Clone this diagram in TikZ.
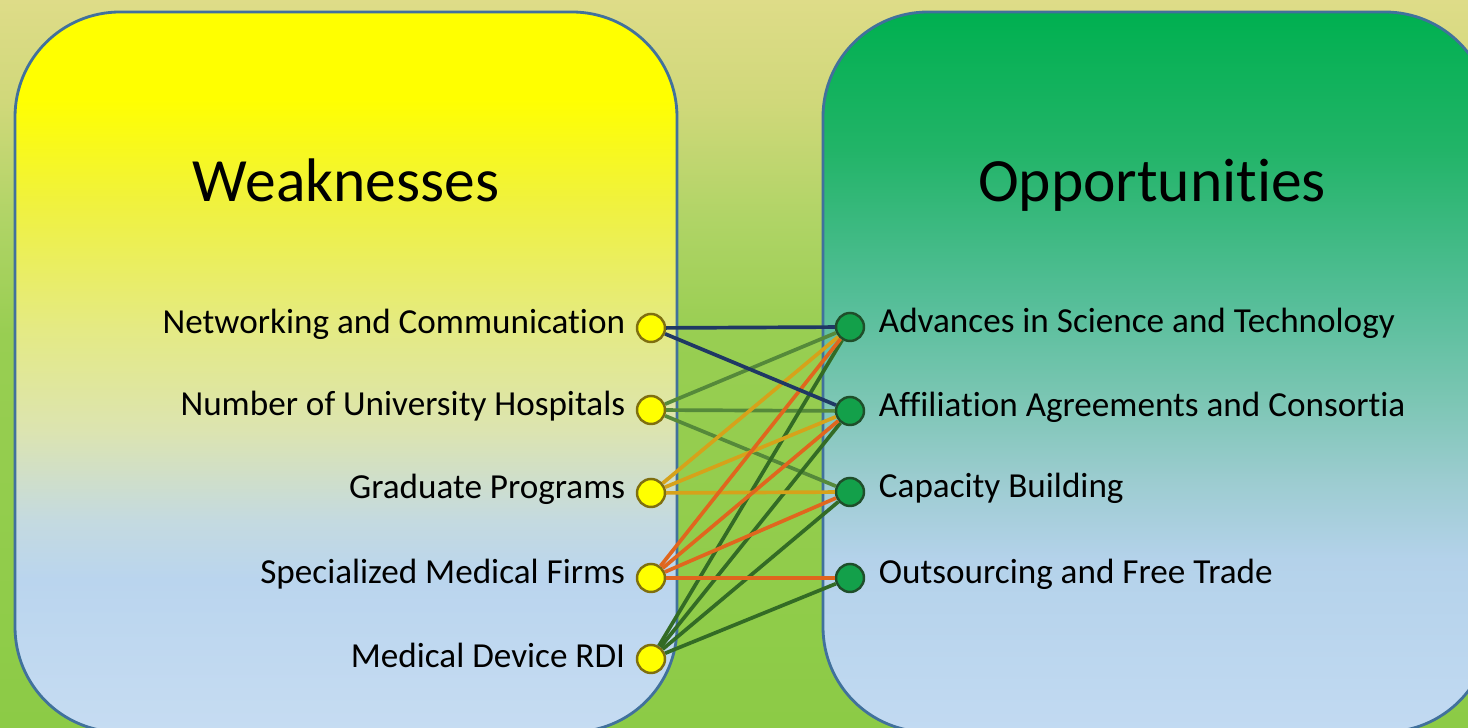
\documentclass[tikz,border=0pt]{standalone}
\usepackage{fontspec}
\setmainfont{Carlito}[Ligatures={NoCommon,NoRequired},Contextuals=NoAlternate,RawFeature={-calt}]
\usetikzlibrary{positioning}

\definecolor{bgTop}{HTML}{DEDC88}
\definecolor{bgA}{HTML}{D0D87A}
\definecolor{bgB}{HTML}{B0D466}
\definecolor{bgC}{HTML}{98CE52}
\definecolor{bgBot}{HTML}{8CCB46}

\definecolor{wkTop}{HTML}{FFFF00}
\definecolor{wkA}{HTML}{F0F23C}
\definecolor{wkB}{HTML}{E4EA84}
\definecolor{wkC}{HTML}{DCE4B0}
\definecolor{wkD}{HTML}{C4DAE0}
\definecolor{wkE}{HTML}{BAD5EE}
\definecolor{wkBot}{HTML}{C6DCF2}

\definecolor{opTop}{HTML}{00B050}
\definecolor{opA}{HTML}{22B468}
\definecolor{opB}{HTML}{55BE98}
\definecolor{opC}{HTML}{7CC6B4}
\definecolor{opD}{HTML}{9CCCD0}
\definecolor{opE}{HTML}{B4D2EA}
\definecolor{opBot}{HTML}{C2DAF2}

\definecolor{boxLine}{HTML}{41719C}
\definecolor{wDot}{HTML}{FFFF00}
\definecolor{wDotLine}{HTML}{7F6F10}
\definecolor{oDot}{HTML}{13A04A}
\definecolor{oDotLine}{HTML}{1F4E2A}

\definecolor{lnNavy}{HTML}{1F3864}
\definecolor{lnHosp}{HTML}{55893A}
\definecolor{lnGrad}{HTML}{D6A21A}
\definecolor{lnFirm}{HTML}{E0661E}
\definecolor{lnRdi}{HTML}{336B25}

\pgfdeclareverticalshading{bgshade}{100bp}{color(0bp)=(bgBot); color(25bp)=(bgBot); color(52bp)=(bgC); color(60bp)=(bgB); color(68bp)=(bgA); color(75bp)=(bgTop); color(100bp)=(bgTop)}
\pgfdeclareverticalshading{wkshade}{100bp}{color(0bp)=(wkBot); color(25bp)=(wkBot); color(35.6bp)=(wkE); color(39.7bp)=(wkD); color(46bp)=(wkC); color(53bp)=(wkB); color(62bp)=(wkA); color(69bp)=(wkTop); color(100bp)=(wkTop)}
\pgfdeclareverticalshading{opshade}{100bp}{color(0bp)=(opBot); color(25bp)=(opBot); color(37bp)=(opE); color(42.5bp)=(opD); color(48bp)=(opC); color(55bp)=(opB); color(65.4bp)=(opA); color(75bp)=(opTop); color(100bp)=(opTop)}

\tikzset{
	box/.style={draw=boxLine,line width=0.8pt,rounded corners=1.05cm},
	wdot/.style={circle,draw=wDotLine,line width=0.7pt,fill=wDot,minimum size=0.28cm,inner sep=0pt},
	odot/.style={circle,draw=oDotLine,line width=0.7pt,fill=oDot,minimum size=0.28cm,inner sep=0pt},
	itemtext/.style={font=\fontsize{10}{12}\selectfont,inner sep=0pt,yshift=1pt},
	head/.style={font=\fontsize{17.5}{21}\selectfont,inner sep=0pt},
	link/.style={line width=1.05pt},
}

\begin{document}
\begin{tikzpicture}
		%\draw[help lines] (0,0) grid (14.68,7.28);
		\useasboundingbox (0,0) rectangle (14.68,7.28);
		\clip (0,0) rectangle (14.68,7.28);
		\shade[shading=bgshade] (0,0) rectangle (14.68,7.28);

		\shadedraw[box,shading=wkshade] (0.15,-0.04) rectangle (6.77,7.16);
		\shadedraw[box,shading=opshade] (8.23,-0.04) rectangle (14.90,7.16);

		\node[head] (wk) at (3.46,5.48) {Weaknesses};
		\node[head] (op) at (11.52,5.43) {Opportunities};

		\node[wdot] (w1) at (6.51,4.00) {};
		\node[wdot] (w2) at (6.51,3.18) {};
		\node[wdot] (w3) at (6.51,2.35) {};
		\node[wdot] (w4) at (6.51,1.50) {};
		\node[wdot] (w5) at (6.51,0.69) {};

		\node[odot] (o1) at (8.50,4.01) {};
		\node[odot] (o2) at (8.50,3.17) {};
		\node[odot] (o3) at (8.50,2.36) {};
		\node[odot] (o4) at (8.50,1.50) {};

		\node[itemtext,left=0.1cm of w1] (w1t) {Networking and Communication};
		\node[itemtext,left=0.1cm of w2] (w2t) {Number of University Hospitals};
		\node[itemtext,left=0.1cm of w3] (w3t) {Graduate Programs};
		\node[itemtext,left=0.1cm of w4] (w4t) {Specialized Medical Firms};
		\node[itemtext,left=0.1cm of w5] (w5t) {Medical Device RDI};

		\node[itemtext,right=0.13cm of o1] (o1t) {Advances in Science and Technology};
		\node[itemtext,right=0.13cm of o2] (o2t) {Affiliation Agreements and Consortia};
		\node[itemtext,right=0.13cm of o3] (o3t) {Capacity Building};
		\node[itemtext,right=0.13cm of o4] (o4t) {Outsourcing and Free Trade};

		\foreach \a/\b/\c in {w2/o1/lnHosp,w2/o2/lnHosp,w2/o3/lnHosp,
			w5/o1/lnRdi,w5/o2/lnRdi,w5/o3/lnRdi,w5/o4/lnRdi,
			w3/o1/lnGrad,w3/o2/lnGrad,w3/o3/lnGrad,
			w4/o1/lnFirm,w4/o2/lnFirm,w4/o3/lnFirm,w4/o4/lnFirm,
			w1/o1/lnNavy,w1/o2/lnNavy}
			\draw[link,\c] (\a) -- (\b);
		\end{tikzpicture}
\end{document}
